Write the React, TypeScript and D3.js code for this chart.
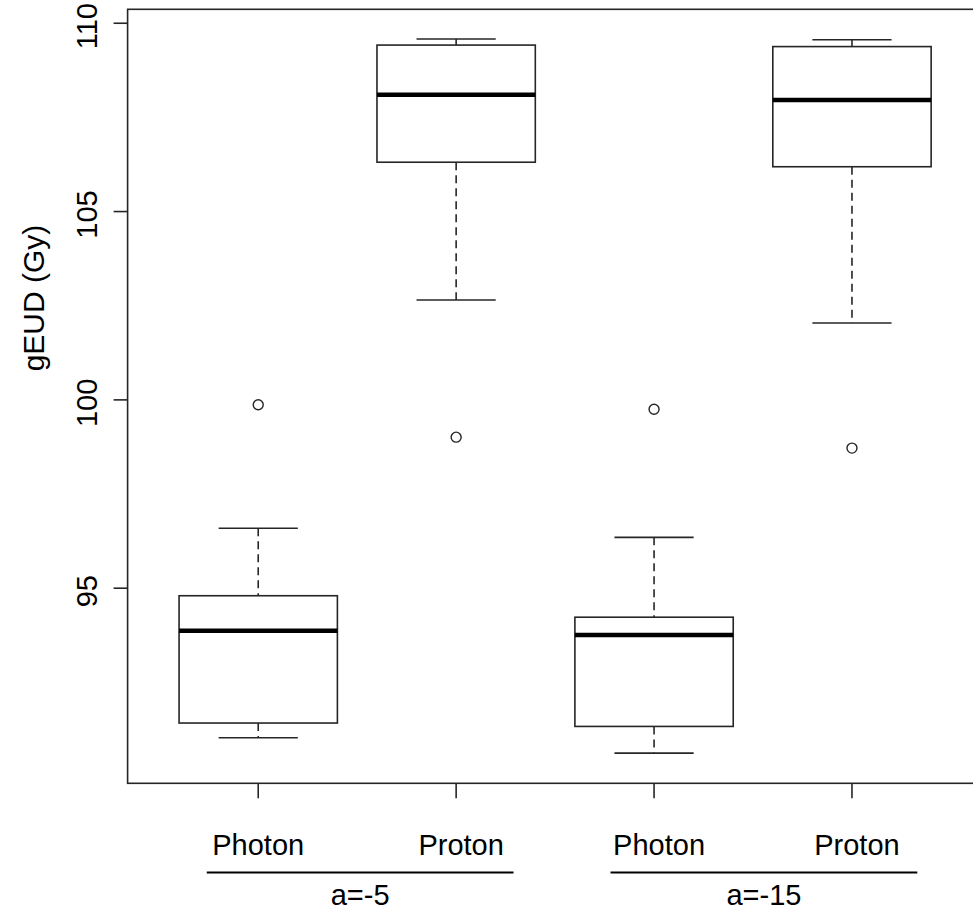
import React from "react";
import * as d3 from "d3";

const categories = ["Photon", "Proton", "Photon", "Proton"];
const groups = ["a=-5", "a=-15"];
const lowerWhisker = [91.03, 102.65, 90.62, 102.04];
const q1 = [91.42, 106.31, 91.33, 106.19];
const median = [93.87, 108.1, 93.76, 107.96];
const q3 = [94.8, 109.42, 94.23, 109.38];
const upperWhisker = [96.59, 109.58, 96.35, 109.56];
const outliers = [99.87, 99.01, 99.75, 98.72];
const yTicks = [95, 100, 105, 110];

const W = 973;
const H = 915;
const FONT = "'Liberation Sans', Arial, Helvetica, sans-serif";
const FS = 29;
const LINE = "#262626";

export default function App() {
  const x = d3.scaleLinear().domain([0.34, 4.66]).range([127.6, 982.6]);
  const y = d3.scaleLinear().domain([89.82, 110.37]).range([783.3, 9.3]);
  const unit = x(2) - x(1);
  const boxHalf = 0.4 * unit;
  const capHalf = 0.2 * unit;

  return (
    <svg
      width={W}
      height={H}
      style={{ position: "absolute", left: 0, top: 0, background: "#fff" }}
      fontFamily={FONT}
    >
      <rect x={0} y={0} width={W} height={H} fill="#fff" />
      {categories.map((c, i) => {
        const cx = x(i + 1);
        return (
          <g key={i}>
            <line x1={cx} x2={cx} y1={y(upperWhisker[i])} y2={y(q3[i])} stroke={LINE} strokeWidth={1.6} strokeDasharray="8,5" />
            <line x1={cx} x2={cx} y1={y(q1[i])} y2={y(lowerWhisker[i])} stroke={LINE} strokeWidth={1.6} strokeDasharray="8,5" />
            <line x1={cx - capHalf} x2={cx + capHalf} y1={y(upperWhisker[i])} y2={y(upperWhisker[i])} stroke={LINE} strokeWidth={1.6} />
            <line x1={cx - capHalf} x2={cx + capHalf} y1={y(lowerWhisker[i])} y2={y(lowerWhisker[i])} stroke={LINE} strokeWidth={1.6} />
            <rect x={cx - boxHalf} y={y(q3[i])} width={2 * boxHalf} height={y(q1[i]) - y(q3[i])} fill="none" stroke={LINE} strokeWidth={1.6} />
            <line x1={cx - boxHalf} x2={cx + boxHalf} y1={y(median[i])} y2={y(median[i])} stroke="#000" strokeWidth={4.5} />
            <circle cx={cx} cy={y(outliers[i])} r={5} fill="none" stroke={LINE} strokeWidth={1.4} />
          </g>
        );
      })}
      <rect x={x(0.34)} y={y(110.37)} width={x(4.66) - x(0.34)} height={y(89.82) - y(110.37)} fill="none" stroke={LINE} strokeWidth={1.6} />
      {yTicks.map((t) => (
        <g key={t}>
          <line x1={x(0.34)} x2={x(0.34) - 14} y1={y(t)} y2={y(t)} stroke={LINE} strokeWidth={1.6} />
          <text
            transform={`translate(97,${y(t) + 3}) rotate(-90)`}
            textAnchor="middle"
            fontSize={FS}
            fill="#000"
          >
            {t}
          </text>
        </g>
      ))}
      <text transform={`translate(44,298) rotate(-90)`} textAnchor="middle" fontSize={30} fill="#000">
        gEUD (Gy)
      </text>
      {categories.map((c, i) => (
        <g key={"x" + i}>
          <line x1={x(i + 1)} x2={x(i + 1)} y1={y(89.82)} y2={y(89.82) + 15} stroke={LINE} strokeWidth={1.6} />
          <text x={x(i + 1) + (i === 0 ? 0 : 5)} y={855} textAnchor="middle" fontSize={FS} fill="#000">
            {c}
          </text>
        </g>
      ))}
      {groups.map((g, k) => {
        const lo = k === 0 ? 0.74 : 2.78;
        const hi = k === 0 ? 2.29 : 4.33;
        return (
          <g key={g}>
            <line x1={x(lo)} x2={x(hi)} y1={872.5} y2={872.5} stroke="#000" strokeWidth={2.2} />
            <text x={(x(lo) + x(hi)) / 2} y={905} textAnchor="middle" fontSize={FS} fill="#000">
              {g}
            </text>
          </g>
        );
      })}
    </svg>
  );
}
